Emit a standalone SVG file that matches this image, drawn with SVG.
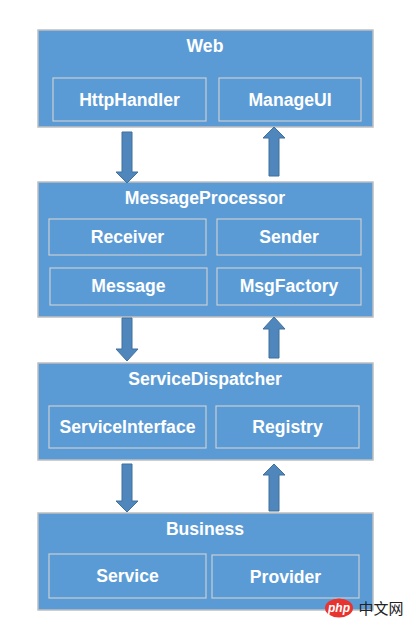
<svg xmlns="http://www.w3.org/2000/svg" width="416" height="627" viewBox="0 0 416 627">
<style>
.layer{fill:#5B9BD5;stroke:#BFBFBF;stroke-width:1.5}
.inner{fill:none;stroke:#C9CED3;stroke-width:1.2}
.t{font-family:"Liberation Sans",Arial,sans-serif;font-weight:bold;fill:#FFFFFF;text-anchor:middle;font-size:17.6px}
.arr{fill:#4F86BC;stroke:#41719C;stroke-width:1}
</style>
<rect width="416" height="627" fill="#FFFFFF"/>
<g id="web">
<rect class="layer" x="38" y="30" width="335" height="97"/>
<text class="t" x="205" y="52">Web</text>
<rect class="inner" x="53" y="78" width="153" height="43"/>
<text class="t" x="129.5" y="106">HttpHandler</text>
<rect class="inner" x="219" y="78" width="142" height="43"/>
<text class="t" x="290" y="106">ManageUI</text>
</g>
<g id="messageprocessor">
<rect class="layer" x="38" y="182" width="335" height="135"/>
<text class="t" x="205" y="204">MessageProcessor</text>
<rect class="inner" x="49" y="219" width="157" height="36"/>
<text class="t" x="127.5" y="243">Receiver</text>
<rect class="inner" x="217" y="219" width="144" height="36"/>
<text class="t" x="289" y="243">Sender</text>
<rect class="inner" x="50" y="268" width="157" height="37"/>
<text class="t" x="128.5" y="292">Message</text>
<rect class="inner" x="217" y="268" width="144" height="37"/>
<text class="t" x="289" y="292">MsgFactory</text>
</g>
<g id="servicedispatcher">
<rect class="layer" x="38" y="363" width="335" height="97"/>
<text class="t" x="205" y="385">ServiceDispatcher</text>
<rect class="inner" x="49" y="406" width="157" height="42"/>
<text class="t" x="127.5" y="433">ServiceInterface</text>
<rect class="inner" x="216" y="406" width="143" height="42"/>
<text class="t" x="287.5" y="433">Registry</text>
</g>
<g id="business">
<rect class="layer" x="38" y="513" width="335" height="97"/>
<text class="t" x="205" y="535">Business</text>
<rect class="inner" x="49" y="554" width="157" height="44"/>
<text class="t" x="127.5" y="582">Service</text>
<rect class="inner" x="212" y="555" width="147" height="43"/>
<text class="t" x="285.5" y="583">Provider</text>
</g>
<g id="connectors">
<path class="arr" d="M122,132 H132 V172 H138 L127,183 L116,172 H122 Z"/>
<path class="arr" d="M274,127 L285,138 H279 V176 H269 V138 H263 Z"/>
<path class="arr" d="M122,318 H132 V349 H138 L127,361 L116,349 H122 Z"/>
<path class="arr" d="M274,317 L285,329 H279 V358 H269 V329 H263 Z"/>
<path class="arr" d="M122,464 H132 V501 H138 L127,512 L116,501 H122 Z"/>
<path class="arr" d="M274,464 L285,475 H279 V511 H269 V475 H263 Z"/>
</g>
<g id="watermark">
<ellipse cx="339" cy="608" rx="14" ry="9.5" fill="#E8332F"/>
<text x="339" y="612" font-family="'Liberation Sans',Arial,sans-serif" font-style="italic" font-weight="bold" font-size="12" fill="#FFFFFF" text-anchor="middle">php</text>
<text x="381" y="614" font-family="'Liberation Sans','Noto Sans CJK SC',sans-serif" font-size="15" fill="#222222" text-anchor="middle">中文网</text>
</g>
</svg>
